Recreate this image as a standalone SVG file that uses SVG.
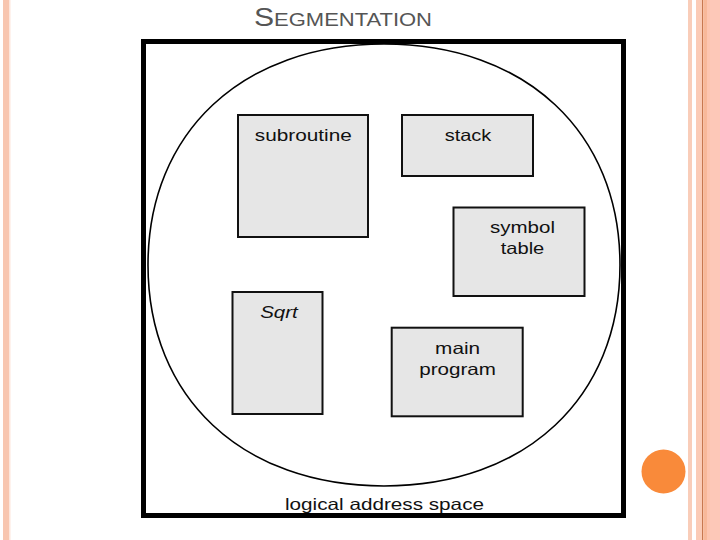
<svg xmlns="http://www.w3.org/2000/svg" width="720" height="540" viewBox="0 0 720 540">
<style>
.seg{fill:#e6e6e6;stroke:#111;stroke-width:2}
.lbl{font-family:"Liberation Sans",Arial,sans-serif;font-size:16.5px;fill:#111;text-anchor:middle}
.title{font-family:"Liberation Sans",Arial,sans-serif;fill:#555}
</style>
<rect width="720" height="540" fill="#fff"/>
<g id="decor">
<rect x="3" y="0" width="6" height="540" fill="#f8c6b0"/>
<rect x="9" y="0" width="1.5" height="540" fill="#fde6dc"/>
<rect x="688" y="0" width="4" height="540" fill="#f9cdb9"/>
<rect x="696" y="0" width="6" height="540" fill="#fbcbb6"/>
<rect x="702" y="0" width="1.2" height="540" fill="#c8784f"/>
<rect x="703.2" y="0" width="3.8" height="540" fill="#f8b899"/>
<rect x="707" y="0" width="3" height="540" fill="#fdc5b0"/>
<rect x="710" y="0" width="10" height="540" fill="#fdc8b8"/>
<circle cx="663.5" cy="471.5" r="22" fill="#f98a3a"/>
</g>
<text class="title" x="254" y="26" textLength="178" lengthAdjust="spacingAndGlyphs"><tspan font-size="26">S</tspan><tspan font-size="19">EGMENTATION</tspan></text>
<g id="frame">
<rect x="143.5" y="41.5" width="480" height="474" fill="none" stroke="#000" stroke-width="5"/>
<path d="M620,265 C620,397.6 525.6,486 384,486 C242.4,486 148,397.6 148,265 C148,132.4 242.4,44 384,44 C525.6,44 620,132.4 620,265 Z" fill="none" stroke="#000" stroke-width="1.6"/>
<text class="lbl" x="384.5" y="510" textLength="199" lengthAdjust="spacingAndGlyphs">logical address space</text>
</g>
<g id="connectors"></g>
<g id="subroutine">
<rect class="seg" x="238" y="115" width="130" height="122"/>
<text class="lbl" x="303.3" y="141" textLength="97" lengthAdjust="spacingAndGlyphs">subroutine</text>
</g>
<g id="stack">
<rect class="seg" x="402" y="115" width="131" height="61"/>
<text class="lbl" x="468" y="141" textLength="46.7" lengthAdjust="spacingAndGlyphs">stack</text>
</g>
<g id="symbol-table">
<rect class="seg" x="453.5" y="207.5" width="131" height="88.5"/>
<text class="lbl" x="522.5" y="233" textLength="65" lengthAdjust="spacingAndGlyphs">symbol</text>
<text class="lbl" x="522.5" y="253.5" textLength="43.6" lengthAdjust="spacingAndGlyphs">table</text>
</g>
<g id="sqrt">
<rect class="seg" x="232.5" y="292" width="90" height="122"/>
<text class="lbl" x="279" y="318" font-style="italic" textLength="37.7" lengthAdjust="spacingAndGlyphs">Sqrt</text>
</g>
<g id="main-program">
<rect class="seg" x="391.7" y="327.7" width="131" height="88.6"/>
<text class="lbl" x="457.6" y="354" textLength="45" lengthAdjust="spacingAndGlyphs">main</text>
<text class="lbl" x="457.6" y="374.5" textLength="76.7" lengthAdjust="spacingAndGlyphs">program</text>
</g>
</svg>
